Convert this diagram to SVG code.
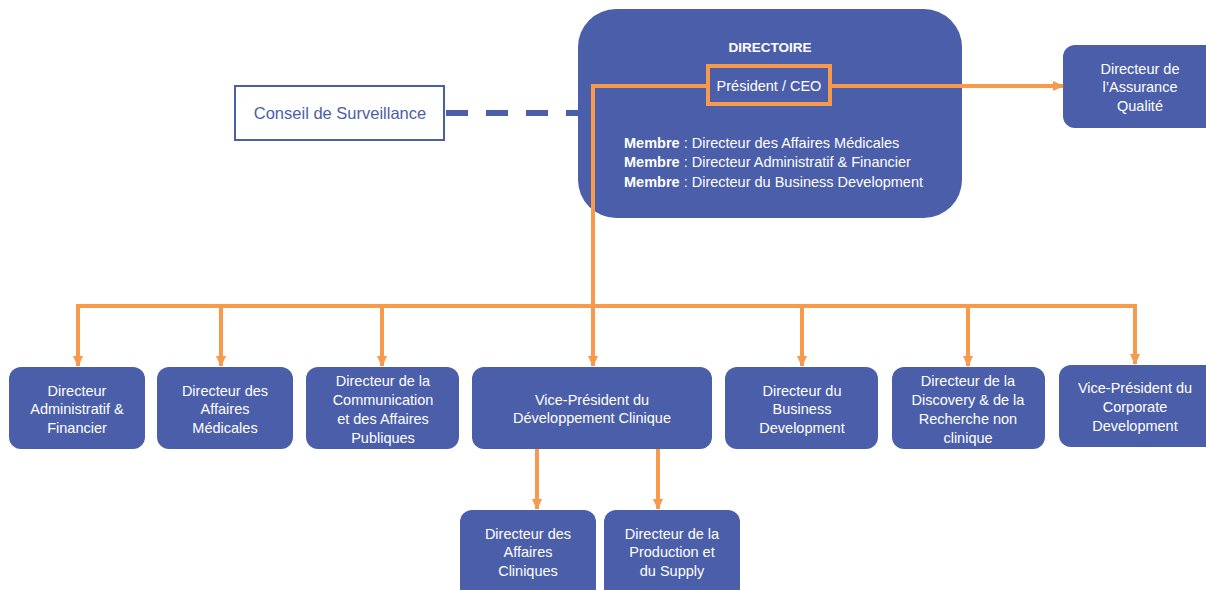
<svg xmlns="http://www.w3.org/2000/svg" width="1206" height="590" viewBox="0 0 1206 590">
<style>
.box{fill:#4b5eaa;}
.t{font-family:"Liberation Sans",Arial,sans-serif;font-size:14.5px;fill:#ffffff;text-anchor:middle;}
.m{font-family:"Liberation Sans",Arial,sans-serif;font-size:14.5px;fill:#ffffff;}
.b{font-weight:bold;}
.or{fill:none;stroke:#f79a4b;stroke-width:4;}
</style>
<defs>
<marker id="arr" markerWidth="12" markerHeight="10" refX="10" refY="5" orient="auto" markerUnits="userSpaceOnUse">
<path d="M0,0 L11,5 L0,10 Z" fill="#f79a4b"/>
</marker>
</defs>
<rect width="1206" height="590" fill="#ffffff"/>

<g id="directoire">
<rect class="box" x="578" y="9" width="384" height="209" rx="38"/>
<text class="t b" x="770" y="52" style="font-size:13.5px">DIRECTOIRE</text>
<text class="m" x="624" y="148"><tspan class="b">Membre</tspan> : Directeur des Affaires Médicales</text>
<text class="m" x="624" y="167"><tspan class="b">Membre</tspan> : Directeur Administratif &amp; Financier</text>
<text class="m" x="624" y="187"><tspan class="b">Membre</tspan> : Directeur du Business Development</text>
</g>
<g id="president">
<rect x="708" y="66" width="122" height="38" fill="none" stroke="#f79a4b" stroke-width="4"/>
<text class="t" x="769" y="91">Président / CEO</text>
</g>
<g id="conseil">
<rect x="235" y="86" width="209" height="54" fill="#ffffff" stroke="#4b5eaa" stroke-width="2"/>
<text class="t" x="340" y="119" style="font-size:16.5px;fill:#4b5eaa">Conseil de Surveillance</text>
</g>
<g id="assurance">
<rect class="box" x="1063" y="45" width="160" height="83" rx="12"/>
<text class="t" x="1140" y="74">Directeur de</text>
<text class="t" x="1140" y="92">l’Assurance</text>
<text class="t" x="1140" y="111">Qualité</text>
</g>

<g id="n1">
<rect class="box" x="9" y="367" width="136" height="82" rx="12"/>
<text class="t" x="77" y="396">Directeur</text>
<text class="t" x="77" y="414">Administratif &amp;</text>
<text class="t" x="77" y="433">Financier</text>
</g>
<g id="n2">
<rect class="box" x="157" y="367" width="136" height="82" rx="12"/>
<text class="t" x="225" y="396">Directeur des</text>
<text class="t" x="225" y="414">Affaires</text>
<text class="t" x="225" y="433">Médicales</text>
</g>
<g id="n3">
<rect class="box" x="306" y="367" width="153" height="82" rx="12"/>
<text class="t" x="383" y="386">Directeur de la</text>
<text class="t" x="383" y="405">Communication</text>
<text class="t" x="383" y="424">et des Affaires</text>
<text class="t" x="383" y="443">Publiques</text>
</g>
<g id="n4">
<rect class="box" x="472" y="367" width="240" height="82" rx="12"/>
<text class="t" x="592" y="405">Vice-Président du</text>
<text class="t" x="592" y="423">Développement Clinique</text>
</g>
<g id="n5">
<rect class="box" x="725" y="367" width="153" height="82" rx="12"/>
<text class="t" x="802" y="396">Directeur du</text>
<text class="t" x="802" y="414">Business</text>
<text class="t" x="802" y="433">Development</text>
</g>
<g id="n6">
<rect class="box" x="892" y="367" width="153" height="82" rx="12"/>
<text class="t" x="968" y="386">Directeur de la</text>
<text class="t" x="968" y="405">Discovery &amp; de la</text>
<text class="t" x="968" y="424">Recherche non</text>
<text class="t" x="968" y="443">clinique</text>
</g>
<g id="n7">
<rect class="box" x="1059" y="365" width="164" height="82" rx="12"/>
<text class="t" x="1135" y="393">Vice-Président du</text>
<text class="t" x="1135" y="412">Corporate</text>
<text class="t" x="1135" y="431">Development</text>
</g>
<g id="n8">
<rect class="box" x="460" y="510" width="136" height="95" rx="12"/>
<text class="t" x="528" y="539">Directeur des</text>
<text class="t" x="528" y="557">Affaires</text>
<text class="t" x="528" y="576">Cliniques</text>
</g>
<g id="n9">
<rect class="box" x="604" y="510" width="136" height="95" rx="12"/>
<text class="t" x="672" y="539">Directeur de la</text>
<text class="t" x="672" y="557">Production et</text>
<text class="t" x="672" y="576">du Supply</text>
</g>

<g id="connectors">
<line x1="446" y1="113" x2="578" y2="113" stroke="#4b5eaa" stroke-width="6" stroke-dasharray="22,18"/>
<path class="or" d="M706,86 L593,86 L593,306"/>
<line class="or" x1="593" y1="300" x2="593" y2="366" marker-end="url(#arr)"/>
<line class="or" x1="830" y1="86" x2="1063" y2="86" marker-end="url(#arr)"/>
<path class="or" d="M78,306 L1136,306"/>
<line class="or" x1="78" y1="304" x2="78" y2="366" marker-end="url(#arr)"/>
<line class="or" x1="221" y1="304" x2="221" y2="366" marker-end="url(#arr)"/>
<line class="or" x1="382" y1="304" x2="382" y2="366" marker-end="url(#arr)"/>
<line class="or" x1="802" y1="304" x2="802" y2="366" marker-end="url(#arr)"/>
<line class="or" x1="968" y1="304" x2="968" y2="366" marker-end="url(#arr)"/>
<line class="or" x1="1135" y1="304" x2="1135" y2="364" marker-end="url(#arr)"/>
<line class="or" x1="537" y1="449" x2="537" y2="509" marker-end="url(#arr)"/>
<line class="or" x1="658" y1="449" x2="658" y2="509" marker-end="url(#arr)"/>
</g>
</svg>
